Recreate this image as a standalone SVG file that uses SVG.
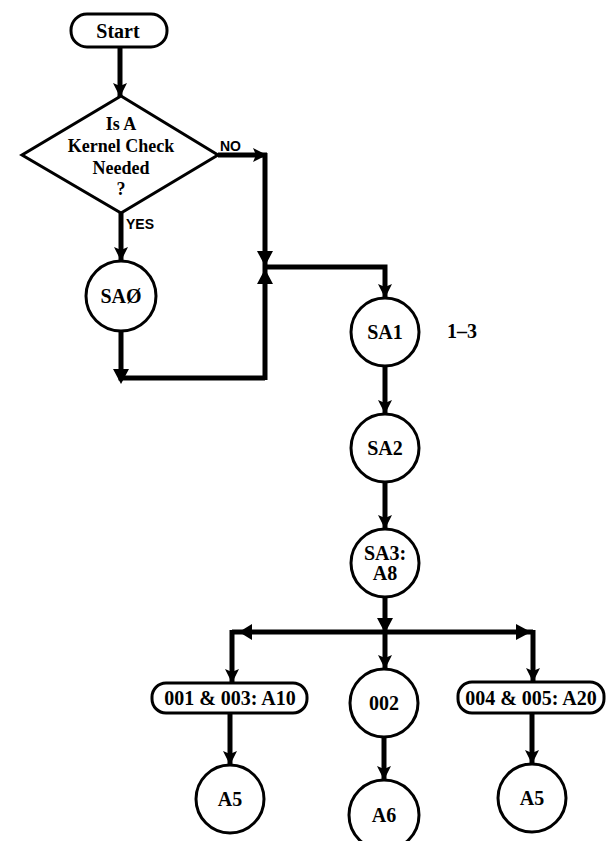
<svg xmlns="http://www.w3.org/2000/svg" width="606" height="841" viewBox="0 0 606 841">
<defs>
<marker id="ah" markerUnits="userSpaceOnUse" markerWidth="16" markerHeight="16" refX="14" refY="7" orient="auto">
<path d="M0,0 L14,7 L0,14 L3,7 Z" fill="#000"/>
</marker>
<style>
.node{fill:#fff;stroke:#000;stroke-width:3}
.t{font-family:"Liberation Serif",serif;font-weight:bold;font-size:20px;text-anchor:middle;fill:#000}
.lab{font-family:"Liberation Sans",sans-serif;font-weight:bold;font-size:14px;fill:#000}
.c{fill:none;stroke:#000;stroke-width:5}
.a{fill:none;stroke:#000;stroke-width:5;marker-end:url(#ah)}
.h{fill:#000}
</style>
</defs>
<rect width="606" height="841" fill="#fff"/>
<g id="connectors">
<line class="a" x1="120" y1="47" x2="120" y2="97"/>
<line class="a" x1="218" y1="155" x2="267" y2="155"/>
<line class="c" x1="265" y1="153" x2="265" y2="380"/>
<path class="h" d="M257,251 L273,251 L265,266 Z"/>
<path class="h" d="M257,284 L273,284 L265,269 Z"/>
<path class="a" d="M265,267 L385,267 L385,298"/>
<line class="a" x1="121" y1="213" x2="121" y2="261"/>
<path class="c" d="M121,331 L121,378 L265,378"/>
<path class="h" d="M113,369 L129,369 L121,384 Z"/>
<line class="a" x1="385" y1="366" x2="385" y2="414"/>
<line class="a" x1="385" y1="482" x2="385" y2="529"/>
<line class="a" x1="385" y1="597" x2="385" y2="669"/>
<path class="h" d="M377,618 L393,618 L385,633 Z"/>
<path class="c" d="M232,632 L533,632"/>
<path class="h" d="M252,624 L252,640 L239,632 Z"/>
<path class="h" d="M516,624 L516,640 L531,632 Z"/>
<path class="a" d="M232,630 L232,683"/>
<path class="a" d="M533,630 L533,682"/>
<line class="a" x1="230" y1="713" x2="230" y2="765"/>
<line class="a" x1="384" y1="737" x2="384" y2="780"/>
<line class="a" x1="532" y1="713" x2="532" y2="764"/>
</g>
<g id="start">
<rect class="node" x="71" y="14" width="96" height="33" rx="16"/>
<text class="t" x="118" y="38">Start</text>
</g>
<g id="decision">
<polygon class="node" points="121,96 218,155 121,213 22,155"/>
<text class="t" font-size="18" x="121" y="130" style="font-size:18px">Is A</text>
<text class="t" x="121" y="152" style="font-size:18px">Kernel Check</text>
<text class="t" x="121" y="174" style="font-size:18px">Needed</text>
<text class="t" x="121" y="195" style="font-size:18px">?</text>
</g>
<g id="labels">
<text class="lab" x="220" y="151">NO</text>
<text class="lab" x="126" y="229">YES</text>
<text class="t" x="462" y="338">1–3</text>
</g>
<g id="sa0">
<circle class="node" cx="121" cy="296" r="35"/>
<text class="t" x="121" y="303">SAØ</text>
</g>
<g id="sa1">
<circle class="node" cx="385" cy="332" r="34"/>
<text class="t" x="385" y="339">SA1</text>
</g>
<g id="sa2">
<circle class="node" cx="385" cy="448" r="34"/>
<text class="t" x="385" y="455">SA2</text>
</g>
<g id="sa3">
<circle class="node" cx="385" cy="563" r="34"/>
<text class="t" x="385" y="560">SA3:</text>
<text class="t" x="385" y="580">A8</text>
</g>
<g id="box1">
<rect class="node" x="152" y="683" width="155" height="30" rx="14"/>
<text class="t" x="230" y="705">001 &amp; 003: A10</text>
</g>
<g id="n002">
<circle class="node" cx="384" cy="703" r="34"/>
<text class="t" x="384" y="710">002</text>
</g>
<g id="box2">
<rect class="node" x="458" y="682" width="146" height="31" rx="14"/>
<text class="t" x="531" y="705">004 &amp; 005: A20</text>
</g>
<g id="a5left">
<circle class="node" cx="230" cy="799" r="34"/>
<text class="t" x="230" y="806">A5</text>
</g>
<g id="a6">
<circle class="node" cx="384" cy="815" r="35"/>
<text class="t" x="384" y="822">A6</text>
</g>
<g id="a5right">
<circle class="node" cx="532" cy="798" r="34"/>
<text class="t" x="532" y="805">A5</text>
</g>
</svg>
